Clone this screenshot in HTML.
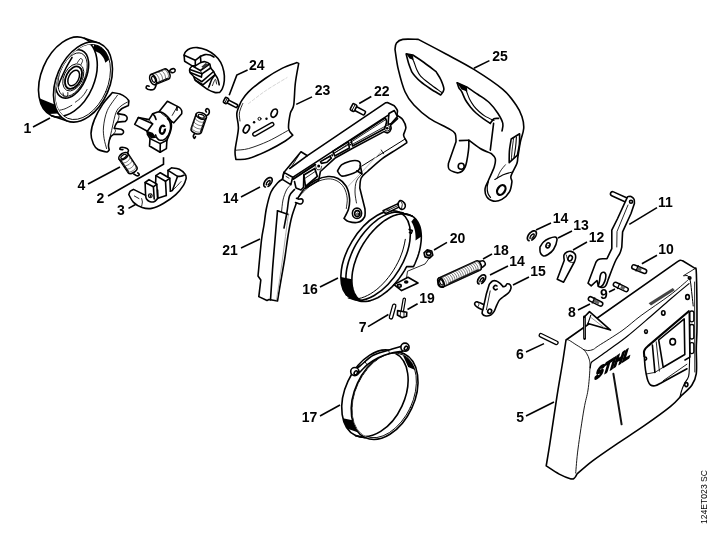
<!DOCTYPE html>
<html><head><meta charset="utf-8"><title>124ET023 SC</title>
<style>
html,body{margin:0;padding:0;background:#fff;}
body{width:720px;height:550px;overflow:hidden;font-family:"Liberation Sans",sans-serif;}
svg{display:block}
.w{width:720px;height:550px;will-change:transform;transform:translateZ(0);opacity:.999}
.o{fill:#fff;stroke:#000;stroke-width:1.6;stroke-linejoin:round;stroke-linecap:round}
.n{fill:none;stroke:#000;stroke-width:1.6;stroke-linejoin:round;stroke-linecap:round}
.t{fill:none;stroke:#000;stroke-width:.85;stroke-linejoin:round;stroke-linecap:round}
.b{fill:#000;stroke:none}
.ld{fill:none;stroke:#000;stroke-width:1.6;stroke-linecap:butt}
text{font-family:"Liberation Sans",sans-serif;font-weight:bold;font-size:14px;fill:#000;text-anchor:middle}
</style></head><body>
<div class="w"><svg width="720" height="550" viewBox="0 0 720 550">
<ellipse cx="68" cy="77" rx="26.6" ry="42" transform="rotate(23 68 77)" class="o" />
<path d="M84.4,38.3L99.4,43.3" class="n" />
<path d="M51.6,115.7L66.6,120.7" class="n" />
<path d="M48.7,114.1L47.4,113.1L46.1,111.9L44.9,110.6L43.8,109.2L42.8,107.6L41.9,106L41.1,104.2L40.4,102.3L39.8,100.3L39.3,98.2L54.6,104.4L54.9,105.6L55.2,106.9L55.7,108.1L56.1,109.3L56.6,110.4L57.1,111.5L57.7,112.5L58.3,113.5Z" class="b" />
<ellipse cx="83" cy="82" rx="26.6" ry="42" transform="rotate(23 83 82)" class="o" />
<ellipse cx="83" cy="82" rx="24.8" ry="39.4" transform="rotate(23 83 82)" class="t" />
<clipPath id="cd"><ellipse cx="83" cy="82" rx="24.8" ry="39.4" transform="rotate(23 83 82)"/></clipPath>
<g clip-path="url(#cd)">
<path d="M94.2,44.6L95.9,44.9L97.6,45.4L99.2,46.1L100.7,46.9L102.1,48L103.5,49.2L104.7,50.5L105.8,52L106.8,53.7L107.7,55.4L108.5,57.4L109.2,59.4L105.4,62.7L104.8,60.9L104.2,59.3L103.4,57.8L102.5,56.4L101.5,55.2L100.4,54.1L99.2,53.1L98,52.4L96.6,51.7L95.2,51.3L93.8,51L92.3,50.9Z" class="b" />
<ellipse cx="68.5" cy="77.3" rx="26" ry="40.8" transform="rotate(23 68.5 77.3)" class="o" />
<ellipse cx="72" cy="74" rx="14.5" ry="25.5" transform="rotate(23 72 74)" class="n" />
<ellipse cx="72.6" cy="74.6" rx="12.6" ry="23" transform="rotate(23 72.6 74.6)" class="t" />
<path d="M58.7,110.4C59.8,110.1 62.8,109.7 65,108.8C67.2,107.9 70.7,105.9 71.8,105.3" class="t" />
<path d="M75.4,102.1C76.2,101.5 78.6,100 80,98.7C81.4,97.4 82.8,95.9 84,94.4C85.2,92.9 86.5,90.3 87,89.5" class="t" />
<ellipse cx="73.3" cy="77.4" rx="9.3" ry="14.5" transform="rotate(27 73.3 77.4)" class="t" />
<ellipse cx="73.5" cy="77.7" rx="7.4" ry="12" transform="rotate(27 73.5 77.7)" class="n" style="stroke-width:1.8"/>
<ellipse cx="73.7" cy="78" rx="5" ry="8.4" transform="rotate(27 73.7 78)" class="n" style="stroke-width:1.5"/>
<path d="M77.5,62.5C78,61.8 79.7,58.8 80.5,58.5C81.3,58.2 82.5,59.5 82.6,60.5C82.7,61.5 81.3,63.8 81,64.5" class="t" />
<path d="M63,93C63.2,93.7 63.7,96.7 64.5,97.2C65.3,97.7 67,96.8 67.6,96C68.1,95.2 67.8,93.1 67.8,92.5" class="t" />
<path d="M58.5,86C58.8,85 59.2,83 60.5,80C61.8,77 64.1,71.8 66,68C67.9,64.2 71,59.2 72,57.5" class="n" />
</g>
<path d="M112.4,92.6C113.7,92.8 117.7,93.2 120,94C122.3,94.8 124.5,96.3 126,97.5C127.5,98.7 128.4,100.3 128.9,100.9L128.4,105.5C127.3,106 123.6,107.5 122,108.5C120.4,109.5 119.5,110.9 118.7,111.7C118,112.5 117.7,113.3 117.5,113.6L124.6,114.9C125,115.2 126.4,115.8 126.8,116.6C127.2,117.3 127.2,118.6 127,119.4C126.8,120.2 125.6,121.1 125.3,121.4L117.3,122.1C117,122.6 116,124 115.5,125C115,126 114.5,127.8 114.3,128.3L121.4,129.3C121.7,129.6 123,130.2 123.3,130.8C123.6,131.4 123.6,132.4 123.3,133C123,133.6 121.9,134.2 121.6,134.4L113.6,134.4C113.1,134.9 111.3,135.5 110.5,137.2C109.7,138.9 108.7,142.7 108.5,144.8C108.3,146.9 109.1,149.1 109.2,149.9C108.9,150.2 108.1,151.5 107.5,151.8C106.9,152.1 105.8,151.8 105.4,151.8C104.2,151.4 100,150.8 98,149.5C96,148.2 94.6,146.7 93.4,144C92.2,141.3 90.8,137.5 91,133.4C91.2,129.3 92.5,124.3 94.5,119.4C96.5,114.5 99.8,108.6 102.8,104.1C105.8,99.6 110.8,94.5 112.4,92.6Z" class="o" />
<path d="M117.5,95.2C115.8,97.8 109.6,105.2 107.3,110.5C105,115.8 104,122.3 103.5,127C103,131.7 103.6,134.9 104.1,138.5C104.6,142.1 106.2,146.9 106.6,148.6" class="t" />
<path d="M128.5,101.5C127.2,102.2 123.1,104.2 121,106C118.9,107.8 117.4,109 116,112.5C114.6,116 113.4,122.7 112.4,127C111.4,131.3 110.2,136.6 109.8,138.5" class="t" />
<path d="M117.5,113.6C117.8,114.1 119,115.1 119,116.5C119,117.9 117.8,121 117.5,121.9" class="t" />
<path d="M114.3,128.3C114.5,128.8 115.6,130.1 115.5,131C115.4,131.9 113.9,133.5 113.6,134" class="t" />
<path d="M134.7,124.4L138.4,117.5L149,119.6L152.7,113.8L156.9,112.2L159,111.7L167.4,101.2L176.4,105.9C177,106.2 179.1,107.2 180,108C180.9,108.8 181.4,109.7 181.7,110.7C182,111.7 181.7,113.3 181.7,113.8L173.8,122.8L171,121C171.1,122 171.6,125 171.4,127C171.2,129 170.8,130.8 170,133C169.2,135.2 167.4,139 166.9,140.2L166.4,148.6L160.1,152.3L149.5,146L150,138.6L147.4,134.4L147.4,131.2Z" class="o" />
<path d="M138.4,117.5L152.7,123.8L147.4,131.2" class="n" />
<path d="M149,119.6L152.7,123.8" class="t" />
<path d="M145.8,130.5L152.7,132.8L156.6,137.8L151.1,138.4L147.4,134.4Z" class="b" />
<path d="M159,111.7C159.7,111.9 161.6,112.2 163,113C164.4,113.8 166.2,115.3 167.5,116.6C168.8,117.9 170.4,120.3 171,121" class="n" />
<path d="M177,107L172.2,115.4" class="t" />
<path d="M177,107.5L177,110.2" class="n" />
<path d="M161.5,113.5L170,119.8" class="t" />
<path d="M167.5,118.6L168.5,119.6L169.4,121L170.1,122.7L170.5,124.6L170.6,126.6L170.5,128.7L170.1,130.8L169.4,132.9L168.5,134.8L167.4,136.6L166.2,138L164.9,139.2L163.4,139.9L162,140.3L160.6,140.3L159.2,140L158,139.2L157,138L156.2,136.6L155.6,134.9" class="n" />
<path d="M152.7,113.8C153,114.2 154,115 154.6,116C155.2,117 155.8,118.9 156,119.5" class="n" />
<ellipse cx="162.4" cy="129.7" rx="2.5" ry="4.1" transform="rotate(12 162.4 129.7)" class="n" style="stroke-width:2.3"/>
<path d="M163.3,128.3L166,127.4" class="n" style="stroke:#fff;stroke-width:1.6"/>
<path d="M150,138.6L160.3,143.6L166.9,140.2" class="n" />
<path d="M160.3,143.6L160.1,152.3" class="n" />
<path d="M128.8,194.6C129,194 129.4,192.1 130.2,191.2C131,190.3 132.9,189.7 133.5,189.4L145.6,195.4L145.1,182.5L149,179.6L155.6,183.4L155.9,175.6L160.3,172.7L168,177.2L168,170.4L171.5,167.8C172.8,168 177,168.1 179.3,169.2C181.6,170.3 184.2,172.9 185.3,174.4C186.5,175.9 186,177.6 186.2,178.2C185.8,179.3 185.3,182.4 183.6,185.1C181.9,187.8 179.1,191.6 175.8,194.6C172.5,197.6 167.7,200.9 163.7,203.2C159.7,205.5 155.2,207.7 151.6,208.4C148,209.1 145.1,208.5 142.1,207.5C139.1,206.5 135.7,204.6 133.5,202.4C131.3,200.2 129.6,195.9 128.8,194.6Z" class="o" />
<path d="M145.1,182.5L153.4,186.8L156.8,184.2L155.6,183.4" class="n" />
<path d="M153.4,186.8L154.2,199" class="n" />
<path d="M156.8,184.2L157.6,198.5" class="n" />
<path d="M145.6,195.4C145.8,196 145.8,198 146.5,199C147.2,200 148.2,200.9 149.5,201.4C150.8,201.9 152.7,202.3 154,201.8C155.3,201.3 157,199.1 157.6,198.5" class="n" />
<circle cx="150.3" cy="195.8" r="1.9" class="n" style="stroke-width:1.1"/><circle cx="150.4" cy="196" r=".9" class="b"/>
<path d="M155.9,175.6L165.5,181.3L169.8,178.2L168,177.2" class="n" />
<path d="M165.5,181.3L166.3,195.4" class="n" />
<path d="M169.8,178.2L170.4,191.2" class="n" />
<path d="M157.6,190L157.8,198.3L166.3,195.4" class="n" />
<path d="M168,170.4L177.5,176.4C178.1,176.4 179.9,176.4 181,176.2C182.1,176 183.5,175.4 184,175.2" class="n" />
<path d="M177.5,176.4L172.4,190.6L170.4,191.2" class="n" />
<path d="M172.4,190.6C173.1,189.9 175.1,188 176.5,186.5C177.9,185 180.2,182.4 181,181.6" class="t" />
<path d="M134.4,196L139,198.6" class="t" />
<path d="M141.6,198.6C141.7,199.2 142.4,200.7 142.4,202C142.4,203.3 141.7,205.5 141.6,206.2" class="t" />
<path d="M184.1,55.2C184.3,54.6 184.6,52.8 185.6,51.7C186.6,50.6 188.2,49.3 190.2,48.6C192.1,47.9 194.6,47.4 197.3,47.6C200,47.9 203.6,48.8 206.5,50.1C209.4,51.4 212.2,53.2 214.6,55.2C217,57.2 219.2,59.7 220.7,62.4C222.2,65.1 223.2,68.5 223.8,71.5C224.4,74.5 224.6,77.8 224.3,80.7C224.1,83.6 223.1,86.8 222.3,88.8C221.5,90.8 220.1,91.8 219.7,92.4C218.8,92.4 216.6,92.9 214.6,92.4C212.6,91.9 209.7,90.7 207.5,89.4C205.3,88.1 203.4,86.3 201.4,84.8C199.4,83.3 196.6,81.6 195.3,80.2C194,78.8 194.5,77.9 193.7,76.6C192.8,75.3 190.9,73.8 190.2,72.5C189.5,71.2 189.4,70.1 189.7,69C190,67.9 191.8,66.4 192.2,65.9L184.6,61.3L184.1,55.2Z" class="o" />
<path d="M184.1,55.2L195.3,60.3L195.3,65.9L192.2,65.9" class="n" />
<path d="M195.3,60.3L200.4,56.3C201.2,56 203.4,54.8 205,54.6C206.6,54.4 208.5,54.6 210,55C211.5,55.4 213.3,56.7 214,57" class="n" />
<path d="M200.4,56.3L200.9,62.4L195.3,65.9" class="n" />
<path d="M192.2,65.9L200.4,70.5L209.6,64" class="n" />
<path d="M200.9,62.4C201.6,62.3 203.5,61.4 204.9,61.7C206.3,62 208.7,63 209.6,64C210.5,65 210.4,67.3 210.6,68" class="n" />
<path d="M189.9,69.4L201.9,73.8L210.6,68" class="n" />
<path d="M190.2,72.5L201.4,77.1L201.9,73.8" class="n" />
<path d="M200.4,70.5L201.9,73.8" class="t" />
<path d="M201.4,66.8L205.6,63L208.4,64.4L203.6,68.4Z" class="b" style="fill:#333"/>
<path d="M193.7,76.6L201.9,81.7L213.6,71.5L210.6,68" class="n" />
<path d="M195.3,80.2L202.9,84.8L215.1,74.6L213.6,71.5" class="n" />
<path d="M209,86.8C209.4,85.7 210.5,82 211.5,80C212.5,78 214.5,75.5 215.1,74.6" class="n" />
<path d="M215.1,74.6C215.6,75.3 217.1,77.3 217.8,79C218.5,80.7 219,83.8 219.2,84.8" class="n" />
<path d="M212.4,85.6C212.7,84.9 213.7,82.2 214.2,81.2C214.7,80.2 215.2,78.9 215.6,79.4C216,79.9 216.4,83.2 216.6,84" class="t" />
<path d="M207.5,89.4L210.5,82.7" class="t" />
<path d="M155.2,84.6 L168.7,79 A3,5.4 -22.5 0 0 164.5,69 L151,74.6" class="o" />
<path d="M157.3,82.9 L167.7,78.6" class="n" style="stroke-width:1.6"/>
<path d="M158.2,83.3 A3,5.4 -22.5 0 0 154,73.4" class="t" style="stroke:#444;stroke-width:.7"/>
<path d="M161.2,82.1 A3,5.4 -22.5 0 0 157,72.1" class="t" style="stroke:#444;stroke-width:.7"/>
<path d="M164.2,80.9 A3,5.4 -22.5 0 0 160,70.9" class="t" style="stroke:#444;stroke-width:.7"/>
<path d="M167.2,79.6 A3,5.4 -22.5 0 0 163,69.6" class="t" style="stroke:#444;stroke-width:.7"/>
<ellipse cx="153.1" cy="79.6" rx="3" ry="5.4" transform="rotate(-22.5 153.1 79.6)" class="o" />
<ellipse cx="153.5" cy="79.4" rx="1.6" ry="3.2" transform="rotate(-22.5 153.5 79.4)" class="n" style="stroke-width:1.2"/>
<path d="M156.1,85.2C155.8,85.8 155.4,88 154.4,88.8C153.4,89.6 151.2,89.9 149.9,89.8C148.6,89.7 146.8,88.8 146.3,88.2C145.8,87.6 146.4,86.2 146.9,85.9C147.4,85.6 148.8,86.2 149.2,86.2" class="n" style="stroke-width:1.6"/>
<path d="M169.2,71.5C169.5,71.1 170.3,69.7 171.1,69.2C171.9,68.8 173.4,68.5 174.1,68.8C174.8,69.1 175.3,70.4 175.1,71.1C174.9,71.8 173.5,72.6 172.8,72.8C172.1,73 171.1,72.2 170.8,72.1" class="n" style="stroke-width:1.6"/>
<path d="M119.1,159.1 L128.3,172.9 A2.9,5.2 56.3 0 0 136.9,167.1 L127.7,153.3" class="o" />
<path d="M121.3,161.2 L128.4,171.8" class="n" style="stroke-width:1.6"/>
<path d="M121.1,162.2 A2.9,5.2 56.3 0 0 129.8,156.4" class="t" style="stroke:#444;stroke-width:.7"/>
<path d="M123.2,165.2 A2.9,5.2 56.3 0 0 131.8,159.4" class="t" style="stroke:#444;stroke-width:.7"/>
<path d="M125.2,168.3 A2.9,5.2 56.3 0 0 133.9,162.5" class="t" style="stroke:#444;stroke-width:.7"/>
<path d="M127.3,171.4 A2.9,5.2 56.3 0 0 135.9,165.6" class="t" style="stroke:#444;stroke-width:.7"/>
<ellipse cx="123.4" cy="156.2" rx="2.9" ry="5.2" transform="rotate(56.3 123.4 156.2)" class="o" />
<ellipse cx="123.6" cy="156.5" rx="1.6" ry="3.1" transform="rotate(56.3 123.6 156.5)" class="n" style="stroke-width:1.2"/>
<path d="M127.6,152.9C127.7,152.4 128.8,150.8 128.4,150C128,149.2 126.4,148.2 125.1,147.8C123.8,147.4 121.5,147.2 120.7,147.5C119.9,147.8 119.6,149 120,149.3C120.4,149.7 122.4,149.6 122.9,149.6" class="n" style="stroke-width:1.6"/>
<path d="M133.8,174C134.3,174.3 135.8,175.7 136.7,175.8C137.6,175.9 139.1,175.2 139.3,174.7C139.5,174.2 138.1,173.2 137.8,172.9" class="n" style="stroke-width:1.6"/>
<path d="M196.2,114 L191.1,128.8 A3,5.4 109 0 0 201.3,132.4 L206.4,117.6" class="o" />
<path d="M204.8,120 L200.8,131.4" class="n" style="stroke-width:1.6"/>
<path d="M195.1,117.3 A3,5.4 109 0 0 205.3,120.8" class="t" style="stroke:#444;stroke-width:.7"/>
<path d="M193.9,120.6 A3,5.4 109 0 0 204.1,124.1" class="t" style="stroke:#444;stroke-width:.7"/>
<path d="M192.8,123.9 A3,5.4 109 0 0 203,127.4" class="t" style="stroke:#444;stroke-width:.7"/>
<path d="M191.7,127.2 A3,5.4 109 0 0 201.9,130.7" class="t" style="stroke:#444;stroke-width:.7"/>
<ellipse cx="201.3" cy="115.8" rx="3" ry="5.4" transform="rotate(109 201.3 115.8)" class="o" />
<ellipse cx="201.2" cy="116.2" rx="1.6" ry="3.2" transform="rotate(109 201.2 116.2)" class="n" style="stroke-width:1.2"/>
<path d="M206,116C206.4,115.7 207.9,115 208.5,114.2C209.1,113.4 209.5,111.8 209.3,110.9C209.1,110 208.1,108.8 207.5,108.7C206.9,108.6 205.8,109.7 205.6,110.2C205.4,110.8 206.3,111.7 206.4,112" class="n" style="stroke-width:1.6"/>
<path d="M194.7,133.5C194.5,133.9 193.4,135.2 193.3,136C193.2,136.8 194,138.4 194.4,138.5C194.8,138.6 195.3,137 195.5,136.7" class="n" style="stroke-width:1.6"/>
<path d="M443,287 L480.3,269.9 A2.7,4.9 -24.6 0 0 476.3,260.9 L439,278" class="o" />
<path d="M449.5,283.3 L478.2,270.1" class="n" style="stroke-width:1.6"/>
<path d="M445.2,286 A2.7,4.9 -24.6 0 0 441.1,277.1" class="t" style="stroke:#444;stroke-width:.7"/>
<path d="M447.3,285 A2.7,4.9 -24.6 0 0 443.2,276.1" class="t" style="stroke:#444;stroke-width:.7"/>
<path d="M449.4,284 A2.7,4.9 -24.6 0 0 445.4,275.1" class="t" style="stroke:#444;stroke-width:.7"/>
<path d="M451.6,283 A2.7,4.9 -24.6 0 0 447.5,274.1" class="t" style="stroke:#444;stroke-width:.7"/>
<path d="M453.7,282.1 A2.7,4.9 -24.6 0 0 449.6,273.2" class="t" style="stroke:#444;stroke-width:.7"/>
<path d="M455.8,281.1 A2.7,4.9 -24.6 0 0 451.7,272.2" class="t" style="stroke:#444;stroke-width:.7"/>
<path d="M458,280.1 A2.7,4.9 -24.6 0 0 453.9,271.2" class="t" style="stroke:#444;stroke-width:.7"/>
<path d="M460.1,279.1 A2.7,4.9 -24.6 0 0 456,270.2" class="t" style="stroke:#444;stroke-width:.7"/>
<path d="M462.2,278.2 A2.7,4.9 -24.6 0 0 458.1,269.3" class="t" style="stroke:#444;stroke-width:.7"/>
<path d="M464.4,277.2 A2.7,4.9 -24.6 0 0 460.3,268.3" class="t" style="stroke:#444;stroke-width:.7"/>
<path d="M466.5,276.2 A2.7,4.9 -24.6 0 0 462.4,267.3" class="t" style="stroke:#444;stroke-width:.7"/>
<path d="M468.6,275.2 A2.7,4.9 -24.6 0 0 464.5,266.3" class="t" style="stroke:#444;stroke-width:.7"/>
<path d="M470.8,274.3 A2.7,4.9 -24.6 0 0 466.7,265.3" class="t" style="stroke:#444;stroke-width:.7"/>
<path d="M472.9,273.3 A2.7,4.9 -24.6 0 0 468.8,264.4" class="t" style="stroke:#444;stroke-width:.7"/>
<path d="M475,272.3 A2.7,4.9 -24.6 0 0 470.9,263.4" class="t" style="stroke:#444;stroke-width:.7"/>
<path d="M477.1,271.3 A2.7,4.9 -24.6 0 0 473.1,262.4" class="t" style="stroke:#444;stroke-width:.7"/>
<path d="M479.3,270.3 A2.7,4.9 -24.6 0 0 475.2,261.4" class="t" style="stroke:#444;stroke-width:.7"/>
<ellipse cx="441" cy="282.5" rx="2.7" ry="4.9" transform="rotate(-24.6 441 282.5)" class="o" />
<ellipse cx="441.4" cy="282.3" rx="1.5" ry="2.9" transform="rotate(-24.6 441.4 282.3)" class="n" style="stroke-width:1.2"/>
<path d="M441,278.5C440.5,279 438.2,280.2 438,281.5C437.8,282.8 438.6,285.6 439.5,286.5C440.4,287.4 442.8,286.8 443.5,286.8" class="n" style="stroke-width:1.6"/>
<path d="M479.5,261.3C480.2,261.2 482.5,260.5 483.5,261C484.5,261.5 485.5,263.5 485.3,264.5C485.1,265.5 483,266.8 482.5,267.2" class="n" style="stroke-width:1.6"/>
<g transform="translate(224.3 99.6) rotate(27.8)"><rect x="3.7" y="-1.6" width="11" height="3.2" rx="1" class="o"/><rect x="0" y="-2.9" width="4" height="5.8" rx="1.2" class="o"/><path d="M2,-2.9 V2.9" class="t"/></g>
<g transform="translate(351.5 106.5) rotate(27.4)"><rect x="4.3" y="-2.1" width="10.8" height="4.2" rx="1" class="o"/><rect x="0" y="-3.6" width="4.6" height="7.2" rx="1.2" class="o"/><path d="M2.3,-3.6 V3.6" class="t"/></g>
<path d="M240.9,101.9C242.2,100.2 244.4,95.7 248.5,91.8C252.6,87.9 259.6,82.4 265.2,78.5C270.8,74.6 276.7,71.1 282,68.4C287.3,65.8 294.5,63.6 297,62.6L298.7,63.4C298.1,66.8 296.1,76.5 295.3,83.5C294.5,90.5 294.5,100.2 293.7,105.2C292.9,110.2 291.1,109.5 290.3,113.4C289.5,117.3 288.2,124.9 288.6,128.5C289,132.1 292.1,134.1 292.8,135.2C291.6,136.2 289.3,138.5 285.3,141C281.3,143.5 274.7,147.3 268.6,150.2C262.5,153.1 253.9,157.1 248.5,158.6C243.1,160.1 238,159.3 235.9,159.4C235.8,157.9 234.7,155.3 235.1,150.2C235.5,145 238.1,134.6 238.4,128.5C238.7,122.4 236.4,118 236.8,113.6C237.2,109.2 240.2,103.9 240.9,101.9Z" class="o" />
<path d="M242.8,103.5C242.4,104.4 241.1,107.2 240.5,109C239.9,110.8 239.4,112 239.3,114C239.2,116 239.9,119.8 240,121" class="t" />
<path d="M235.9,150.2C238,149.9 243.1,150.1 248.5,148.6C253.9,147.1 261.9,144.1 268.6,141C275.3,137.9 285.3,131.9 288.6,130.1" class="t" />
<path d="M248.5,103.6C251.4,101.4 259.6,94.8 266,90.5C272.4,86.2 283.5,79.8 287,77.6" class="t" style="stroke:#ccc;stroke-dasharray:3 2"/>
<ellipse cx="274.2" cy="113.2" rx="2.8" ry="4.4" transform="rotate(28 274.2 113.2)" class="n" style="stroke-width:1.7"/>
<ellipse cx="246.4" cy="129" rx="2.6" ry="4.2" transform="rotate(28 246.4 129)" class="n" style="stroke-width:1.7"/>
<path d="M254.6,134.2 L272,124.4" style="stroke:#000;stroke-width:5;stroke-linecap:round;fill:none"/>
<path d="M254.6,134.2 L272,124.4" style="stroke:#fff;stroke-width:2.2;stroke-linecap:round;fill:none"/>
<circle cx="254.1" cy="122.2" r="1.2" class="b"/><circle cx="266.5" cy="118.8" r="1.2" class="b"/>
<circle cx="259.5" cy="118.8" r="1.5" class="n" style="stroke-width:1"/>
<path d="M395,49.4C395.2,48.3 395.2,44.7 396.5,43C397.8,41.3 399.2,40 402.8,39.4C406.4,38.8 415.7,39.4 418.3,39.4C422.9,41.8 436.7,49 446,54C455.3,59 464.4,63.5 473.9,69.4C483.4,75.3 495.8,83.5 502.8,89.4C509.8,95.3 512.9,100.5 516.1,105C519.3,109.5 520.7,112.8 522,116.7C523.3,120.6 524,124.3 523.7,128.5C523.4,132.7 521.4,137.1 520.4,141.8C519.4,146.5 518.5,153.3 517.9,156.9C517.3,160.5 518,160.2 516.9,163.4C515.8,166.6 511.8,172.9 511,176C510.2,179.1 512.2,179.2 511.9,181.8C511.6,184.5 511.1,189 509.4,191.9C507.7,194.8 504.5,197.9 501.9,199.4C499.2,200.9 496,201.5 493.5,201.1C491,200.7 488.2,199 486.8,196.9C485.4,194.8 484.8,191.3 485.1,188.5C485.4,185.7 487,183.8 488.5,180.2C490,176.6 493.2,170.4 494.3,166.8C495.4,163.2 495.8,160.6 495.2,158.4C494.6,156.2 491.7,154.2 491,153.4C489.2,152.6 483.9,150.7 480.2,148.5C476.5,146.3 470.7,141.6 468.8,140.2C468.8,141.9 469.1,145.8 468.5,150.2C467.9,154.6 466.9,163.1 465.2,166.9C463.5,170.7 461.1,172.4 458.5,172.8C455.9,173.2 451,171 449.3,169.5C447.6,168 448.5,164.6 448.4,163.6L456,141.8C455.9,140.4 456.4,135.7 455.1,133.5C453.8,131.3 452.7,131 448.4,128.5C444.1,126 435.1,122.2 429.4,118.3C423.6,114.4 418,109.4 413.9,105C409.8,100.6 407.6,97.6 405,91.7C402.4,85.8 400,76.5 398.3,69.4C396.6,62.4 395.6,52.7 395,49.4Z" class="o" />
<path d="M406.1,53.9L412.8,55C414.7,56.2 420.1,59.7 424,62.5C427.9,65.3 434.1,70.2 436.1,71.7C436.9,73.1 439.7,77 441,80C442.3,83 444,86.9 443.9,89.4C443.8,91.9 441.2,94.1 440.6,95C438.8,93.9 433.3,90.7 430,88.5C426.7,86.3 423.2,83.9 420.6,81.7C418,79.5 416,77.2 414.5,75.5C413,73.8 412.2,72.3 411.7,71.7C411.2,70.2 409.4,66 408.5,63C407.6,60 406.5,55.4 406.1,53.9Z" class="n" />
<path d="M411.5,57.5C411.9,58.2 413.1,59.8 413.9,61.7C414.7,63.6 415.4,66.6 416.5,69C417.6,71.4 418.4,73.6 420.6,76.1C422.9,78.6 426.5,81.3 430,84C433.5,86.7 439.6,90.9 441.5,92.3" class="n" style="stroke-width:1.1"/>
<path d="M406,53.6L412.6,54.8L413.8,60L409.5,58.5Z" class="b" />
<path d="M457.2,82.8L467.2,87.2C469,88.4 474.3,91.9 478,94.5C481.7,97.1 486.1,99.6 489.4,102.8C492.7,106 495.8,110.1 498,113.5C500.2,116.9 502.1,120.5 502.8,123.4C503.5,126.3 502.1,129.7 502,131" class="n" />
<path d="M457.2,82.8C457.5,83.7 458.2,86.5 459,88C459.8,89.5 460.6,89.7 461.7,91.7C462.8,93.7 464,97.4 465.5,100C467,102.6 468.9,105 470.6,107.2C472.4,109.4 474,111.2 476,113C478,114.8 480.4,116.6 482.8,118.3C485.2,120 489.1,122.6 490.3,123.4" class="n" />
<path d="M490.3,123.4C490.9,122.6 492.6,119.6 494,118.8C495.4,118 497.8,118.5 498.6,118.4" class="n" />
<path d="M463,86.8C463.5,87.4 465,88.6 466.1,90.6C467.2,92.6 468.2,96.4 469.5,99C470.8,101.6 472.3,104 473.9,106.1C475.5,108.2 477.1,109.8 479,111.5C480.9,113.2 482.5,114.6 485,116.1C487.5,117.6 492.5,119.8 494,120.5" class="n" style="stroke-width:1.1"/>
<path d="M457,82.5L466.8,86.8L467.4,91.5L461.5,89.5Z" class="b" />
<path d="M493.6,123.4L490.3,150.2" class="n" />
<path d="M511.2,139L519.6,133.8C519.6,135.5 519.8,140.4 519.4,144C519,147.6 517.7,153.3 517.4,155.2L509.2,162.6C509.2,160.7 509.1,154.9 509.4,151C509.7,147.1 510.9,141 511.2,139Z" class="n" />
<path d="M513.6,138.5C513.4,140.2 512.6,145.5 512.2,149C511.8,152.5 511.5,157.8 511.4,159.5" class="t" />
<path d="M516.4,137C516.3,138.7 516,143.6 515.6,147C515.2,150.4 514.3,155.8 514,157.5" class="n" style="stroke-width:1.1"/>
<path d="M512.8,172C511.3,172.4 507,173.3 504,174.5C501,175.7 496.3,178.6 494.8,179.4" class="n" style="stroke-width:1.1"/>
<path d="M505.4,164.8C504.6,165.8 501.9,168.7 500.5,171C499.1,173.3 497.6,177.2 497,178.4" class="t" />
<path d="M488.4,181.5C488.2,182.4 487.3,185 487.2,187C487.1,189 487.4,191.8 488,193.5C488.6,195.2 490.1,196.8 490.5,197.5" class="n" style="stroke-width:1.2"/>
<ellipse cx="501.3" cy="190" rx="3.7" ry="5.3" transform="rotate(32 501.3 190)" class="n" style="stroke-width:2.3"/>
<circle cx="461.2" cy="166.2" r="3" class="o"/>
<path d="M459.5,140.6L468.8,140.2" class="n" />
<path d="M283.9,172.4L301,151.8L307.4,155.7L385.8,102.7L387.4,102.6L394.3,105.8C394.8,106.6 396.9,109 397.4,110.5C397.9,112 396.5,113.6 397.4,115.1C398.3,116.6 401.4,117.6 402.8,119.7C404.2,121.8 405.8,124.9 405.9,127.5C406,130.1 403.5,132.9 403.6,135.2C403.7,137.5 406.1,140.1 406.6,141.4C407.1,142.7 406.6,142.7 406.6,142.9C404.9,144 400.4,147 396.3,149.6C392.2,152.2 387,155 382.3,158.6C377.6,162.2 371.5,167.8 368,171C364.5,174.2 362.6,175.2 361.2,178C359.8,180.8 360,186.3 359.8,188L365,209C364.9,210.3 365.7,214.8 364.5,217C363.3,219.2 360.7,221.6 358,222.3C355.3,223.1 350.8,222.2 348.5,221.5C346.2,220.8 344.8,218.9 344,218.4C344.8,216.8 347.6,212.4 348.5,209C349.4,205.6 349.9,201.8 349.5,198C349.1,194.2 347.9,189.2 346,186C344.1,182.8 341,180.1 338,178.5C335,176.9 331.7,176.2 328,176.5C324.3,176.8 319.8,178.1 316,180C312.2,181.9 308,185 305,188C302,191 299.2,196.3 298,198C297.4,201 293.8,209.7 292,216C290.2,222.3 289.2,228.7 288,236C286.8,243.3 285.7,252.7 284.5,260C283.3,267.3 282.2,273.2 281,280C279.8,286.8 278.1,297.5 277.5,301L269,299.5L267,300.5L258.8,296.6L260.8,280L258,276C258.6,270 260.5,248.5 261.5,240C262.5,231.5 263.2,230.3 264,225C264.8,219.7 265.3,213.5 266.5,208C267.7,202.5 269.1,196.2 271,192C272.9,187.8 276.1,184.6 278,182.5C279.9,180.4 281.7,179.8 282.4,179.3Z" class="o" />
<path d="M307.4,155.7L289.8,168.5" class="n" />
<path d="M299.1,154.7L291.7,166.5" class="t" />
<path d="M283.9,172.4L282.4,179.3L290.8,184.7L292.7,177.3L283.9,172.4" class="n" />
<path d="M286,176.4L289,178.2" class="t" />
<path d="M292.7,177.3L388.7,114.9" class="n" />
<path d="M293.4,179L315.3,164.7" class="n" style="stroke-width:2"/>
<path d="M322,161L386.6,119" class="t" />
<path d="M303.8,175L314.8,168.5L317.3,176.3L305.5,186.5Z" class="n" style="stroke-width:1.7"/>
<path d="M305,178.3L315.6,171.2" class="t" />
<path d="M294.5,181.5L296,188L301,190L303.5,187.3L303.8,175" class="n" />
<circle cx="318.7" cy="166" r="1.5" class="b"/>
<path d="M315.8,166.6C316,167.1 316.2,169.1 317,169.5C317.8,169.9 319.7,169.9 320.5,169.3C321.3,168.8 321.4,166.7 321.6,166.2" class="t" />
<path d="M320.4,161.6L330,156.2L331.4,158.2L327,162.2L321.4,163.4Z" class="n" />
<path d="M332.8,151.4L348.3,141.8L349.4,148L334.8,156Z" class="n" />
<path d="M334,153.3L348.6,144.6" class="t" />
<circle cx="332.3" cy="155.5" r=".9" class="b"/>
<path d="M351,140.4L385,118.2C385.3,118.8 386.7,119.8 386.6,121.6C386.5,123.4 384.9,127.6 384.6,128.8L352.6,146L351,140.4Z" class="n" style="stroke-width:1.6"/>
<path d="M353,144L384.6,126.6" class="t" />
<circle cx="350.3" cy="144.6" r=".9" class="b"/>
<path d="M388.9,113.5L394.3,110.5L397.4,116.6L391.2,123.6L388.1,124.4Z" class="n" />
<circle cx="387.2" cy="128.2" r="1.3" class="b"/><circle cx="387.2" cy="128.2" r="2.8" class="t"/>
<path d="M305.5,188.3L318.6,180.5L320.4,171.5L334.8,158.3L352.6,148.2L384,131.6C384.7,131.8 386.8,133.2 388,132.8C389.2,132.4 390.6,130.3 391,129C391.4,127.7 390.6,125.8 390.5,125.2L397.6,118.6" class="n" />
<path d="M298,198C299.2,196.6 302.5,192.4 305.5,189.8C308.5,187.2 312.2,184 316,182.2C319.8,180.4 324.5,179.1 328,178.9C331.5,178.7 334.3,179.5 337,180.9C339.7,182.3 342.3,184.8 344,187.6C345.7,190.4 346.8,194.5 347.2,198C347.6,201.5 346.4,206.8 346.3,208.5" class="t" />
<path d="M405.1,139L361.8,166.1" class="t" style="stroke-width:1"/>
<path d="M381,151.8L348,186.5" class="t" style="stroke:#aaa"/>
<path d="M381.3,150L383.6,153.8" class="t" />
<path d="M337.5,170.9C338.2,169.9 339.4,166.4 341.5,164.8C343.6,163.2 347.4,161.9 350,161.2C352.6,160.5 355.5,160.3 357.2,160.7C358.9,161.1 360.1,161.9 360.3,163.5C360.6,165.1 360.3,168.2 358.7,170C357.1,171.8 353.4,173.3 350.5,174.3C347.6,175.3 343.7,176.6 341.5,176C339.3,175.4 338.2,171.8 337.5,170.9Z" class="n" />
<path d="M356.8,170.8L362,174L360.3,165.5" class="n" />
<path d="M362,174C361.1,175.2 357.7,178 356.5,181C355.3,184 355,188.3 355,192C355,195.7 356.2,201.2 356.5,203" class="t" />
<ellipse cx="357" cy="213.3" rx="4.6" ry="5.2" class="n"/><ellipse cx="357.3" cy="213.6" rx="2.6" ry="3" class="n"/><circle cx="357.6" cy="214" r="1" class="t"/>
<path d="M294.5,189.5C293.7,190.6 290.8,192.2 289.5,196C288.2,199.8 287.9,206.7 287,212C286.1,217.3 284.5,225.3 284,228" class="n" />
<path d="M290.8,184.7C290.1,185.6 287.8,187.4 286.5,190C285.2,192.6 283.8,196.3 283,200C282.2,203.7 281.8,210 281.5,212" class="t" />
<path d="M277.5,210.8L288.4,214.4" class="n" />
<path d="M277.5,210.8C277.1,215.7 275.8,230.1 275,240C274.2,249.9 273.2,260 272.5,270C271.8,280 270.8,295 270.5,300" class="n" />
<path d="M288.4,214.4C287.8,218.7 286.2,230.7 285,240C283.8,249.3 282.4,260 281,270C279.6,280 277.2,295 276.5,300" class="t" style="stroke:#999"/>
<path d="M296.5,198.3L299,199.2C299.5,199.2 301.3,198.6 302,199C302.7,199.4 303.2,200.8 303,201.6C302.8,202.4 301.8,203.7 301,204C300.2,204.3 298.9,203.7 298.5,203.6L295.5,202.6" class="o" />
<ellipse cx="375.6" cy="255.5" rx="27.5" ry="49.5" transform="rotate(31 375.6 255.5)" class="o" style="stroke:none"/>
<ellipse cx="386.6" cy="258.5" rx="27.5" ry="49.5" transform="rotate(31 386.6 258.5)" class="o" style="stroke:none"/>
<path d="M361.9,300L358.9,300.2L356,300L353.3,299.4L350.8,298.3L348.6,296.9L346.6,295L344.8,292.8L343.4,290.2L342.3,287.3L341.5,284.1L341,280.6L340.9,276.9L351.9,279.2L351.9,282L352.1,284.8L352.6,287.3L353.2,289.8L353.9,292L354.9,294.1L356,296L357.3,297.7L358.7,299.2L360.3,300.4Z" class="b" />
<path d="M414.4,217.8L415.7,219L416.8,220.4L417.8,222L418.7,223.7L419.5,225.5L420.1,227.5L420.6,229.5L421,231.7L421.2,234L421.3,236.4L415.5,240.6L415.6,238.1L415.5,235.6L415.3,233.3L415,231L414.5,228.9L413.9,226.9L413.1,225.1L412.3,223.3L411.3,221.8L414.4,217.8Z" class="b" />
<ellipse cx="375.6" cy="255.5" rx="27.5" ry="49.5" transform="rotate(31 375.6 255.5)" class="n" />
<path d="M401.1,213.1L412.1,216.1" class="n" />
<path d="M412.1,216.1L410.2,215.1L408.1,214.4L405.9,213.9L403.6,213.8L401.1,213.9L398.6,214.3L396,214.9L393.4,215.8L390.7,217L388,218.5L385.2,220.2L382.5,222.1L379.8,224.3L377.2,226.6L374.6,229.2L372.1,231.9L369.6,234.8L367.3,237.9L365.1,241.1L363,244.3L361.1,247.7L359.3,251.1L357.7,254.6L356.3,258.1L355.1,261.7L354,265.1L353.2,268.6L352.5,272L352.1,275.3L351.9,278.5L351.9,281.6L352.1,284.5L352.5,287.3L353.2,289.9L354,292.3L355.1,294.5L356.3,296.5L357.7,298.2L359.3,299.7L361.1,300.9" class="n" />
<path d="M412.1,216.1L413.7,217.2L415.2,218.5L416.5,220.1L417.7,221.8L418.7,223.7L419.6,225.8L420.3,228.1L420.8,230.5L421.1,233.1L421.3,235.8L421.3,238.6L421.1,241.5L420.7,244.5L420.2,247.6L419.5,250.7L418.6,253.9L417.6,257.1L416.3,260.3L415,263.5L413.5,266.6L406.7,266.6" class="n" />
<path d="M406.3,267.2L404.6,270.3L402.8,273.2L400.8,276.1L398.8,278.9L396.7,281.6L394.4,284.2L392.2,286.6L389.8,288.9L387.5,291L385,292.9L382.6,294.7L380.1,296.3L377.7,297.7L375.3,298.8L372.9,299.8L370.5,300.6L368.2,301.1L365.9,301.4L363.7,301.5L361.7,301.4L359.6,301.1L357.7,300.5L356,299.7L354.3,298.7L346.4,294.8" class="n" />
<path d="M403.5,213.1L401.4,212.5L399.1,212.1L396.7,212.1L394.2,212.3L391.7,212.8L389,213.5L386.3,214.6L383.6,215.9L380.9,217.4L378.1,219.2L375.4,221.3L372.7,223.5L370,226L367.5,228.7L365,231.5L362.6,234.5L360.3,237.6L358.1,240.9L356.1,244.2L354.2,247.7L352.5,251.1L351,254.7L349.7,258.2L348.5,261.7L347.6,265.2L346.8,268.7L346.3,272.1L346,275.3L345.9,278.5L346,281.5" class="n" />
<path d="M405.3,239.3L404.6,243.1L403.7,247L402.6,251L401.2,254.9L399.6,258.9L397.7,262.8L395.6,266.7L393.4,270.4L390.9,274.1L388.3,277.5L385.6,280.8L382.7,283.9L379.8,286.8L376.8,289.4L373.7,291.7L370.7,293.7L367.6,295.4L364.5,296.8L361.5,297.9L358.6,298.6L355.8,299L353.1,299L350.5,298.7L348.1,298" class="t" style="stroke-width:1"/>
<path d="M409.2,229.4L412.3,230.6L411.3,233.2L409.5,232.6" class="n" />
<path d="M383,210.8L398,203.6L400,206.6L385.5,213.6Z" class="o" />
<path d="M387.5,209.8L391.5,212" class="t" />
<path d="M386,211.2L397.5,205.8" class="t" />
<path d="M398.2,203C398.5,202.6 399.2,200.8 400,200.6C400.8,200.4 402.1,200.9 403,201.6C403.9,202.3 405.1,203.8 405.3,205C405.5,206.2 405,207.8 404.3,208.5C403.6,209.2 401.9,209.5 401,209.2C400.1,208.9 399.1,207.5 398.6,206.5C398.1,205.5 398.3,203.6 398.2,203Z" class="o" />
<path d="M400.3,200.8C400.6,201.4 402.2,203.1 402.3,204.5C402.4,205.9 401.4,208.2 401.2,209" class="t" />
<path d="M394,284.6L408,277.2L418,283L401.6,290.6Z" class="o" />
<ellipse cx="406.2" cy="282" rx="2.3" ry="1.7" class="b"/>
<ellipse cx="399.3" cy="285.8" rx="1.9" ry="1.4" class="n"/>
<path d="M429,258.5L425,264L407.5,271.2L406.5,278" class="t" />
<path d="M432.8,255.1L429.6,258.1L425.1,257L424,252.9L427.2,249.9L431.7,251Z" class="o" />
<ellipse cx="428.7" cy="253.5" rx="2.3" ry="1.9" class="n"/>
<path d="M424.1,255.5L426.9,257.2L431.2,256.6" class="t" />
<ellipse cx="375.1" cy="393.7" rx="29.9" ry="46.2" transform="rotate(25 375.1 393.7)" class="o" />
<path d="M394.6,351.8L404.1,353.8" class="n" />
<path d="M355.6,435.6L365.1,437.6" class="n" />
<path d="M342.9,418.3L343.3,419.8L343.7,421.2L344.2,422.6L344.8,423.9L345.4,425.2L346,426.4L346.7,427.6L347.5,428.7L358.4,432.5L357.4,431.2L356.4,429.9L355.6,428.5L354.8,427L354.1,425.4L353.4,423.8L352.9,422.1L352.4,420.3Z" class="b" />
<ellipse cx="384.6" cy="395.7" rx="29.9" ry="46.2" transform="rotate(25 384.6 395.7)" class="o" />
<ellipse cx="384.4" cy="395.5" rx="28.6" ry="44.7" transform="rotate(25 384.4 395.5)" class="t" />
<clipPath id="c17"><ellipse cx="384.6" cy="395.7" rx="28.6" ry="44.7" transform="rotate(25 384.6 395.7)"/></clipPath>
<g clip-path="url(#c17)">
<path d="M402.6,354.8L404.3,355.6L405.9,356.6L407.5,357.7L408.9,359L410.2,360.5L411.5,362.1L412.6,363.9L413.5,365.8L414.4,367.9L415.1,370L408.2,367L405,360Z" class="b" />
<ellipse cx="375.4" cy="393.7" rx="29.3" ry="45.2" transform="rotate(25 375.4 393.7)" class="o" />
</g>
<path d="M356.8,368C357.4,367.6 357.8,367.6 360.5,365.5C363.2,363.4 368.5,357.9 373.2,355.3C377.9,352.8 383.8,351.7 388.5,350.2C393.2,348.7 399.3,346.9 401.5,346.2L402.5,351.2C400.4,351.6 393.7,352.5 389.7,353.6C385.7,354.7 381.9,356 378.3,357.8C374.7,359.6 371.3,361.7 368.1,364.2C364.9,366.7 360.8,371.2 359.3,372.6Z" class="o" />
<path d="M364.8,361.5L367.3,365" class="t" />
<path d="M388.5,350.3L389.6,353.6" class="t" />
<circle cx="354.8" cy="371.6" r="4.1" class="o"/><ellipse cx="355.8" cy="372.8" rx="1.5" ry="2.1" transform="rotate(30 355.8 372.8)" class="n"/>
<circle cx="405" cy="347.2" r="4.1" class="o"/><ellipse cx="406" cy="348.2" rx="1.5" ry="2.1" transform="rotate(30 406 348.2)" class="n"/>
<g transform="translate(268 182.3) rotate(38)"><path d="M0.8,5.3L0.4,5.5L-0.1,5.5L-0.5,5.4L-0.9,5.3L-1.3,5L-1.7,4.6L-2.1,4.2L-2.4,3.6L-2.6,3L-2.8,2.3L-3,1.6L-3.1,0.9L-3.1,0.1L-3.1,-0.7L-3,-1.4L-2.9,-2.2L-2.7,-2.8L-2.4,-3.5L-2.1,-4L-1.8,-4.5L-1.4,-4.9L-1,-5.2L-0.6,-5.4L-0.2,-5.5L0.3,-5.5L0.7,-5.4L1.1,-5.1L1.5,-4.8L1.9,-4.4L2.2,-3.9L2.5,-3.3L2.7,-2.7L2.9,-2L3.1,-1.2L3.1,-0.5L3.1,0.3L3.1,1.1L3,1.8L2.8,2.5L2.6,3.2" class="n" style="stroke-width:1.7"/><path d="M0.3,3L0.1,2.9L-0.1,2.7L-0.3,2.4L-0.4,2.1L-0.6,1.7L-0.7,1.2L-0.7,0.8L-0.7,0.3L-0.7,-0.2L-0.7,-0.6L-0.6,-1.1L-0.4,-1.5L-0.3,-1.8L-0.1,-2.1L0.1,-2.3L0.3,-2.4L0.5,-2.5L0.7,-2.4L0.9,-2.3L1.1,-2.1L1.3,-1.8L1.4,-1.5L1.6,-1.1L1.7,-0.6L1.7,-0.2L1.7,0.3L1.7,0.8L1.7,1.2L1.6,1.7" class="n" style="stroke-width:1.4"/></g>
<g transform="translate(481.6 279.4) rotate(38)"><path d="M0.8,5.2L0.4,5.3L-0.1,5.3L-0.5,5.3L-0.9,5.1L-1.3,4.8L-1.7,4.5L-2,4L-2.3,3.5L-2.5,2.9L-2.8,2.3L-2.9,1.6L-3,0.8L-3,0.1L-3,-0.7L-2.9,-1.4L-2.8,-2.1L-2.6,-2.7L-2.4,-3.4L-2.1,-3.9L-1.7,-4.4L-1.4,-4.8L-1,-5L-0.6,-5.2L-0.2,-5.3L0.3,-5.3L0.7,-5.2L1.1,-5L1.5,-4.7L1.8,-4.3L2.1,-3.8L2.4,-3.2L2.7,-2.6L2.8,-1.9L3,-1.2L3,-0.5L3,0.3L3,1L2.9,1.7L2.7,2.4L2.5,3.1" class="n" style="stroke-width:1.7"/><path d="M0.3,2.9L0.1,2.8L-0.1,2.6L-0.3,2.3L-0.4,2L-0.5,1.6L-0.6,1.2L-0.7,0.8L-0.7,0.3L-0.7,-0.2L-0.6,-0.6L-0.5,-1L-0.4,-1.4L-0.3,-1.7L-0.1,-2L0.1,-2.2L0.3,-2.3L0.5,-2.4L0.7,-2.3L0.9,-2.2L1.1,-2L1.3,-1.7L1.4,-1.4L1.5,-1L1.6,-0.6L1.7,-0.2L1.7,0.3L1.7,0.8L1.6,1.2L1.5,1.6" class="n" style="stroke-width:1.4"/></g>
<g transform="translate(531.9 235.8) rotate(40)"><path d="M0.9,5.6L0.4,5.8L-0.1,5.8L-0.5,5.7L-1,5.5L-1.4,5.3L-1.8,4.9L-2.2,4.4L-2.5,3.8L-2.8,3.2L-3,2.5L-3.2,1.7L-3.3,0.9L-3.3,0.1L-3.3,-0.7L-3.2,-1.5L-3,-2.3L-2.8,-3L-2.6,-3.7L-2.3,-4.2L-1.9,-4.8L-1.5,-5.2L-1.1,-5.5L-0.6,-5.7L-0.2,-5.8L0.3,-5.8L0.7,-5.7L1.2,-5.4L1.6,-5.1L2,-4.6L2.3,-4.1L2.6,-3.5L2.9,-2.8L3.1,-2.1L3.2,-1.3L3.3,-0.5L3.3,0.3L3.2,1.1L3.1,1.9L2.9,2.6L2.7,3.3" class="n" style="stroke-width:1.7"/><path d="M0.3,3.2L0.1,3L-0.1,2.8L-0.3,2.5L-0.5,2.2L-0.6,1.7L-0.7,1.3L-0.8,0.8L-0.8,0.3L-0.8,-0.2L-0.7,-0.7L-0.6,-1.2L-0.5,-1.6L-0.3,-1.9L-0.2,-2.2L0.1,-2.4L0.3,-2.6L0.5,-2.6L0.7,-2.6L0.9,-2.4L1.2,-2.2L1.3,-1.9L1.5,-1.6L1.6,-1.2L1.7,-0.7L1.8,-0.2L1.8,0.3L1.8,0.8L1.7,1.3L1.6,1.8" class="n" style="stroke-width:1.4"/></g>
<path d="M540,247C540.6,246.2 542,243.4 543.5,242C545,240.6 547.1,239.3 549,238.5C550.9,237.7 553.7,236.8 555,237C556.3,237.2 557.2,237.9 557,240C556.8,242.1 555,247.1 553.5,249.5C552,251.9 549.7,253.4 548,254.5C546.3,255.6 544.8,256.3 543.5,256C542.2,255.7 540.9,254 540.3,252.5C539.7,251 540,247.9 540,247Z" class="o" /><ellipse cx="548" cy="245.3" rx="1.9" ry="2.6" transform="rotate(25 548 245.3)" class="n"/><circle cx="548.2" cy="245.6" r=".7" class="b"/>
<path d="M564.2,260.5C564.2,259.6 563.5,256.4 564,255C564.5,253.6 565.8,252.6 567,252C568.2,251.4 569.7,251.1 571,251.4C572.3,251.7 574.2,252.9 575,254C575.8,255.1 575.7,256.8 575.6,258C575.5,259.2 574.8,260.9 574.6,261.5L563.6,282.2L557.2,279.2L564.2,260.5Z" class="o" /><ellipse cx="570.2" cy="258.2" rx="2" ry="2.8" transform="rotate(25 570.2 258.2)" class="n"/><path d="M566.3,255C566.5,255.6 566.8,257.3 567.3,258.5C567.8,259.7 568.5,261.3 569.5,262C570.5,262.7 572.8,262.4 573.5,262.5" class="t" />
<path d="M483.6,304.6C482.5,304.1 478.5,301.9 477,301.8C475.5,301.7 474.5,303.2 474.6,304.1C474.7,305 476.1,306.4 477.5,307.4C478.9,308.3 481.8,309.4 482.7,309.8" class="o" /><path d="M477,301.8C477.3,302.2 478.9,303.1 479,304C479.1,304.9 477.8,306.8 477.5,307.4" class="t" /><path d="M489.3,284.3C489.9,283.8 491.4,281.6 492.6,281C493.8,280.4 495.1,280.6 496.4,281C497.6,281.4 499,282.4 500.1,283.3C501.2,284.2 502.5,286.1 503,286.7C503.4,286.6 504.6,286.7 505.3,286.2C506,285.7 506.4,284 507.2,283.8C508,283.6 509.5,284.1 510.1,284.8C510.7,285.5 511.2,286.8 511,288.1C510.8,289.4 509.9,291.3 508.6,292.8C507.3,294.3 504.6,295.7 503,297C501.4,298.3 500.2,299 499.2,300.4C498.2,301.8 497.7,303.2 496.8,305.1C495.9,307 495,310.1 494,311.7C493,313.3 492,314.3 490.7,315C489.4,315.7 487.4,316.2 486,316C484.6,315.8 482.7,314.8 482.2,313.6C481.7,312.4 483,309.7 483.1,308.9L486.4,293.7L489.3,284.3Z" class="o" /><path d="M497.2,289 A2.1,2.1 0 1 1 497,286" class="n" style="stroke-width:1.6"/><ellipse cx="489.7" cy="311.2" rx="1.9" ry="2.2" transform="rotate(25 489.7 311.2)" class="n"/><path d="M490.2,290.9L486.4,309.8" class="t" />
<path d="M612.6,193.8 L626.3,200" style="stroke:#000;stroke-width:5.8;stroke-linecap:round;fill:none"/><path d="M612.6,193.8 L626.8,200.2" style="stroke:#fff;stroke-width:2.7;stroke-linecap:round;fill:none"/><path d="M626,200.2L627.7,196.7C628.2,196.7 630,196.1 631,196.5C632,196.9 633.4,198 634,199.2C634.6,200.3 634.3,202.7 634.4,203.4L631,213.5L622.6,231.9L621.8,247C621.5,248 621.1,250.5 620,253C618.9,255.5 617,257.5 615,262C613,266.5 609.2,277 608,280C607.7,280.9 606.8,284.1 606,285.3C605.2,286.6 604.2,287.3 603,287.5C601.8,287.7 599.2,286.7 598.5,286.5L597,280.5L591.2,285.8L588,283.2L596,262C596.4,261.6 597.3,260 598.5,259.5C599.7,259 601.6,258.9 603,258.8C604.4,258.7 606.3,258.6 607,258.6L611.8,248.6L611.8,230.2L617.6,218.5Z" class="o" /><circle cx="631" cy="201.8" r="1.5" class="n"/><path d="M628,205L617,231.5L616.8,247" class="t" /><path d="M598.2,286C598.4,285.2 599.2,282.7 599.5,281C599.8,279.3 599.9,277.3 600.2,276C600.5,274.7 600.9,273.6 601.5,273C602.1,272.4 603.3,272.1 604,272.3C604.7,272.6 605.5,273.4 605.8,274.5C606,275.6 605.9,277.3 605.5,279C605.1,280.7 604,283.2 603.2,284.5C602.4,285.8 601,286.6 600.5,287" class="n" />
<path d="M391,317.3 L394.2,305.8" style="stroke:#000;stroke-width:4.6;stroke-linecap:round;fill:none"/><path d="M391,317.3 L394.2,305.8" style="stroke:#fff;stroke-width:2.1;stroke-linecap:round;fill:none"/>
<path d="M541,335.3 L556.3,342.8" style="stroke:#000;stroke-width:4.8;stroke-linecap:round;fill:none"/><path d="M541,335.3 L556.3,342.8" style="stroke:#fff;stroke-width:2.3;stroke-linecap:round;fill:none"/>
<path d="M402.3,311 L404.3,299.3" style="stroke:#000;stroke-width:3.6;stroke-linecap:round;fill:none"/><path d="M402.3,311 L404.3,299.3" style="stroke:#fff;stroke-width:1.2;stroke-linecap:round;fill:none"/><path d="M397.6,310.6L406.8,312.2L406.6,316.2L402.2,317.8L397.4,315Z" class="o" /><path d="M400.5,311.8L400.2,316" class="t" /><path d="M404,312.3L404,316.6" class="t" />
<path d="M590.5,298.9 L600.6,303.9" style="stroke:#000;stroke-width:5.8;stroke-linecap:round;fill:none"/><path d="M590.5,298.9 L600.6,303.9" style="stroke:#fff;stroke-width:2.8;stroke-linecap:round;fill:none"/><path d="M593.5,300.4 L599.1,303.1" style="stroke:#666;stroke-width:3.2;stroke-linecap:butt;fill:none"/><path d="M592.2,303 L594.8,297.8" class="n" style="stroke-width:1.2"/>
<path d="M615.5,284.4 L626.1,289.5" style="stroke:#000;stroke-width:5.8;stroke-linecap:round;fill:none"/><path d="M615.5,284.4 L626.1,289.5" style="stroke:#fff;stroke-width:2.8;stroke-linecap:round;fill:none"/><path d="M620.8,286.9 L624.5,288.7" style="stroke:#666;stroke-width:3.2;stroke-linecap:butt;fill:none"/><path d="M617.4,288.5 L619.9,283.3" class="n" style="stroke-width:1.2"/>
<path d="M633.9,267 L644.5,271.3" style="stroke:#000;stroke-width:5.8;stroke-linecap:round;fill:none"/><path d="M633.9,267 L644.5,271.3" style="stroke:#fff;stroke-width:2.8;stroke-linecap:round;fill:none"/><path d="M637.6,268.5 L641.3,270" style="stroke:#666;stroke-width:3.2;stroke-linecap:butt;fill:none"/><path d="M636,271 L638.2,265.6" class="n" style="stroke-width:1.2"/>
<path d="M566,340L677.9,261.4C678.3,261.2 679.5,260.3 680.3,260.2C681.1,260.1 682.2,260.7 682.6,260.8L695.1,268.4C695.3,269.3 696.1,264.6 696.4,274C696.7,283.4 697,312.6 697,325C697,337.4 696.4,340.1 696.3,348.2C696.2,356.3 697.1,367.4 696.3,373.6C695.5,379.8 694,381.9 691.6,385.5C689.2,389.1 683.7,393.3 682.1,394.9C680.1,396.9 676.6,401.6 670.3,406.7C664,411.8 653.4,419.4 644.3,425.7C635.2,432 624.6,438.7 615.9,444.6C607.2,450.5 598.8,456.2 592.3,461.1C585.8,466 579.5,471.9 576.9,474.1C576.5,474.8 575.5,477.2 574.5,478C573.5,478.8 573.5,479.5 571,478.9C568.5,478.2 563.3,476.3 559.2,474.1C555.1,471.9 548.4,467.3 546.2,465.9C546.8,462.3 547.9,456 549.7,444.6C551.5,433.2 554.6,411.4 556.8,397.3C559,383.2 561.5,369.6 563,360C564.5,350.4 565.5,343.3 566,340Z" class="o" />
<path d="M566.5,339.6C567,339.7 567.5,339.4 569.2,340.3C570.9,341.2 574.4,343.7 576.8,345.2C579.2,346.7 581.8,348.1 583.4,349.5C585,350.9 585.6,351.7 586.6,353.4C587.6,355.1 588.9,357.4 589.4,359.9C589.9,362.4 590.1,363.6 589.9,368.6C589.7,373.6 589,383.3 588,390C587,396.7 585.7,399.2 584,409C582.3,418.8 579.4,438.3 578,449C576.6,459.7 576.1,469 575.7,473" class="n" style="stroke-width:.9"/>
<path d="M583.4,349.5C584.1,349.7 586.1,350.6 587.7,350.6C589.3,350.6 591.4,350.3 593.2,349.5C595,348.7 593.8,348.8 598.6,345.7C603.4,342.6 614.9,335.7 622,330.7C629.1,325.7 633.1,321.4 641.1,315.5C649.1,309.6 662.3,300.9 670,295.1C677.7,289.3 684.6,282.9 687.5,280.5" class="t" style="stroke-width:.9"/>
<path d="M590.2,368C590.4,367.1 590.5,364.1 591.2,362.8C591.9,361.5 591.4,362.3 594.5,360C597.6,357.7 604.6,352.9 610,349C615.4,345.1 620.3,341.8 627,336.5C633.7,331.2 642.8,323.2 650,317C657.2,310.8 663.5,305.1 670,299.5C676.5,293.9 685.8,286.2 689,283.6" class="n" style="stroke-width:1.2"/>
<path d="M648.6,303.2L672.8,288L674.8,290.2L651,305.6Z" class="b" style="fill:#444"/>
<ellipse cx="687.5" cy="297" rx="1.8" ry="2.4" class="n"/><ellipse cx="663.3" cy="312.9" rx="1.7" ry="2.2" class="n"/><ellipse cx="646" cy="331.6" rx="1.4" ry="1.8" class="n"/><circle cx="689.6" cy="278" r="1.3" class="n"/>
<path d="M683.6,275.6L695,268.6" class="t" />
<path d="M684,275.8C684.7,275.8 687,275.1 688,276C689,276.9 689.6,277.8 690.3,281C691,284.2 691.5,290.8 692,295C692.5,299.2 693,304.2 693.2,306" class="n" style="stroke-width:1"/>
<path d="M694.6,282L694.8,372" class="t" />
<path d="M644.3,356C644.2,355.2 643.8,352.8 644,351.5C644.2,350.2 644.8,349.5 645.5,348.5C646.2,347.5 648,346.1 648.5,345.6L688.8,311.2" class="n" style="stroke-width:2.1"/>
<path d="M644.3,356C644.4,357.7 644.7,363 645,366C645.3,369 645.7,371.5 646.2,374C646.7,376.5 647.3,379.2 648,381C648.7,382.8 649.3,384.2 650.5,385C651.7,385.8 653.2,386.1 655,385.8C656.8,385.5 660,383.5 661,383L687,368.8" class="n" />
<path d="M658.7,340L684.2,318.9L684.8,354.5L663.2,367.3Z" class="n" />
<ellipse cx="672.7" cy="341.8" rx="2.8" ry="3.2" class="n" style="stroke-width:1.6"/>
<path d="M652.4,345L654.9,372.4" class="n" />
<path d="M656.2,341.8L659.4,371.1" class="t" />
<path d="M654.9,372.4L663.2,367.3" class="t" />
<path d="M646.3,374L654.9,372.4" class="t" />
<path d="M689.3,312.5L689.9,357.1L685,360" class="n" />
<path d="M663.2,380.7L686.9,364.2" class="t" />
<path d="M645,357 a1.6,1.6 0 1 1 0,3.2" class="n"/>
<rect x="689.8" y="311" width="4" height="10.8" rx="1.8" class="n" style="stroke-width:1.3"/>
<rect x="689.8" y="324.5" width="4" height="14.5" rx="1.8" class="n" style="stroke-width:1.3"/>
<rect x="689.8" y="342.7" width="4" height="10.9" rx="1.8" class="n" style="stroke-width:1.3"/>
<ellipse cx="686.3" cy="384.6" rx="1.6" ry="2" class="n" style="stroke-width:1.6"/>
<path d="M689.6,356C689.6,357.7 689.6,362.6 689.4,366C689.2,369.4 689.4,373.5 688.6,376.4C687.8,379.3 685.6,381.2 684.5,383.5C683.4,385.8 682.5,387.8 681.8,390C681,392.2 680.3,395.8 680,397" class="n" style="stroke-width:1.1"/>
<text transform="matrix(0.72 -0.46 -0.3 1 594 380.2)" x="0" y="0" style="font-size:17px;font-weight:bold;text-anchor:start;stroke:#000;stroke-width:2.3;stroke-linejoin:round;letter-spacing:0px">STIHL</text>
<path d="M613.4,373.8L621.6,424.3" class="n" style="stroke-width:2;stroke:#111"/>
<path d="M584.5,316.7L589.5,311.6L610.5,330.1L588,323.4" class="o" />
<path d="M590.8,315.3L588,323.4" class="n" style="stroke-width:1.1"/>
<path d="M591,317.5L604,327.5" class="t" style="stroke:#888"/>
<path d="M584.4,317L584.6,338.6" class="n" style="stroke-width:2.8;stroke:#000"/>
<path d="M584.4,318.5L584.6,337.6" class="n" style="stroke-width:.8;stroke:#999"/>
<path d="M33,127L50,118" class="ld" />
<path d="M88,184L120,167" class="ld" />
<path d="M108,196L163.5,164.3L163.5,157.3" class="ld" />
<path d="M128.5,208.4L135.5,204.5" class="ld" />
<path d="M229.2,95.2L236.8,75.1L247.6,70.1" class="ld" />
<path d="M296.2,104.4L312,96.9" class="ld" />
<path d="M359.2,103.5L371.3,96.5" class="ld" />
<path d="M473.9,68.3L489.4,60.6" class="ld" />
<path d="M241,197L260,187" class="ld" />
<path d="M241,248L260,239" class="ld" />
<path d="M320,287L338,278" class="ld" />
<path d="M434,250L447,242.4" class="ld" />
<path d="M483,259L492,254" class="ld" />
<path d="M490,275L508,266" class="ld" />
<path d="M513,285L529,277" class="ld" />
<path d="M536,230L551,223" class="ld" />
<path d="M558,238L572,231" class="ld" />
<path d="M573,250L587,242" class="ld" />
<path d="M629.3,224.4L657,207.6" class="ld" />
<path d="M641.9,263.7L657,255.3" class="ld" />
<path d="M609,292L615,289" class="ld" />
<path d="M578,310L590,304" class="ld" />
<path d="M368,326.6L388.4,314.5" class="ld" />
<path d="M407.5,309.5L417.6,303.7" class="ld" />
<path d="M320,416L340,405" class="ld" />
<path d="M526,352L544,343.6" class="ld" />
<path d="M526,416L554,402" class="ld" />
<text x="27.5" y="133">1</text>
<text x="81.5" y="190">4</text>
<text x="100.5" y="203">2</text>
<text x="121" y="215">3</text>
<text x="256.8" y="70">24</text>
<text x="322.5" y="95.2">23</text>
<text x="381.8" y="96">22</text>
<text x="500" y="60.6">25</text>
<text x="230.5" y="203">14</text>
<text x="230" y="255">21</text>
<text x="310" y="294">16</text>
<text x="457.5" y="243">20</text>
<text x="501" y="255">18</text>
<text x="517" y="265.5">14</text>
<text x="538" y="276">15</text>
<text x="560.5" y="223">14</text>
<text x="581" y="230">13</text>
<text x="596.5" y="242">12</text>
<text x="665.3" y="206.8">11</text>
<text x="666" y="254">10</text>
<text x="604" y="299">9</text>
<text x="572" y="317">8</text>
<text x="362.6" y="332.4">7</text>
<text x="427" y="303">19</text>
<text x="309.5" y="422">17</text>
<text x="520" y="359">6</text>
<text x="520.2" y="422.4">5</text>
<text transform="translate(707 524) rotate(-90)" style="font-size:8.6px;font-weight:normal;text-anchor:start">124ET023 SC</text>

</svg></div></body></html>
